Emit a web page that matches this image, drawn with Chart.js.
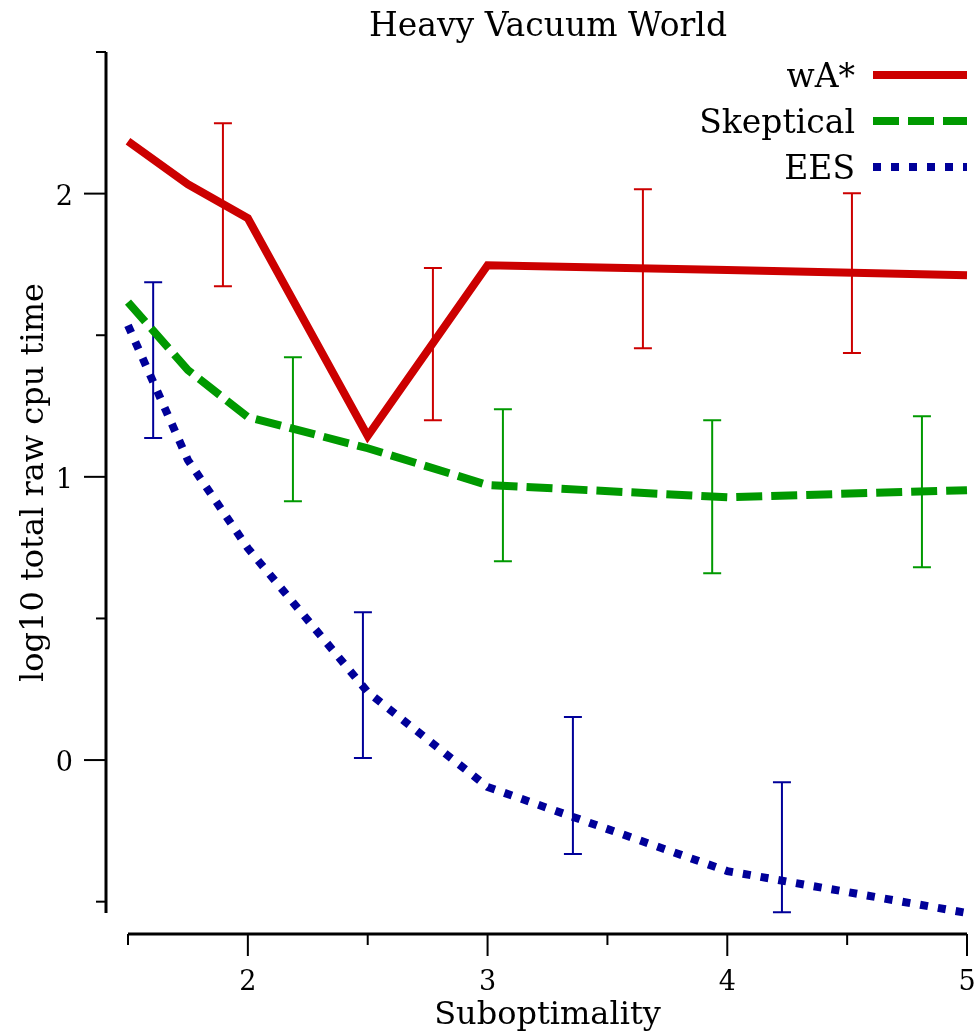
<!DOCTYPE html>
<html>
<head>
<meta charset="utf-8">
<script src="https://cdn.jsdelivr.net/npm/chart.js@4.4.0/dist/chart.umd.min.js"></script>
<style>
  html, body { margin: 0; padding: 0; background: #fff; }
  canvas { display: block; }
</style>
</head>
<body>
<canvas id="grafico" width="978" height="1035"></canvas>
<script>
// dados
const suboptimality = [1.5, 1.75, 2, 2.5, 3, 4, 5];
const wastar    = [2.185, 2.033, 1.913, 1.144, 1.747, 1.730, 1.712];
const skeptical = [1.617, 1.377, 1.211, 1.101, 0.971, 0.928, 0.953];
const ees       = [1.535, 1.059, 0.748, 0.240, -0.095, -0.392, -0.540];

// barras de erro (x, inferior, superior)
const wastarErrX  = [1.896, 2.772, 3.648, 4.520];
const wastarErrLo = [1.673, 1.200, 1.454, 1.437];
const wastarErrHi = [2.248, 1.737, 2.015, 2.001];
const skepErrX  = [2.188, 3.064, 3.937, 4.812];
const skepErrLo = [0.914, 0.702, 0.660, 0.681];
const skepErrHi = [1.422, 1.239, 1.200, 1.214];
const eesErrX  = [1.605, 2.480, 3.356, 4.228];
const eesErrLo = [1.137, 0.007, -0.332, -0.537];
const eesErrHi = [1.687, 0.522, 0.152, -0.078];

const xTicks = [1.5, 2, 2.5, 3, 3.5, 4, 4.5, 5];
const xTickLabels = ["", "2", "", "3", "", "4", "", "5"];
const yTicks = [-0.5, 0, 0.5, 1, 1.5, 2, 2.5];
const yTickLabels = ["", "0", "", "1", "", "2", ""];

const titulo = "Heavy Vacuum World";
const xTitulo = "Suboptimality";
const yTitulo = "log10 total raw cpu time";
const nomes = ["wA*", "Skeptical", "EES"];

const cores = ["#cc0000", "#009900", "#000099"];
const tracos = [[], [26, 9], [8, 10]];
const FONTE = "'DejaVu Serif', serif";
const capW = 0.0375;

function pontos(xs, ys) {
  return xs.map((x, i) => ({ x: x, y: ys[i] }));
}

function barrasErro(xs, lo, hi) {
  const pts = [];
  xs.forEach((x, i) => {
    pts.push({ x: x, y: lo[i] }, { x: x, y: hi[i] }, { x: x, y: null });
    pts.push({ x: x - capW, y: lo[i] }, { x: x + capW, y: lo[i] }, { x: x, y: null });
    pts.push({ x: x - capW, y: hi[i] }, { x: x + capW, y: hi[i] }, { x: x, y: null });
  });
  return pts;
}

function linha(label, data, i) {
  return {
    label: label, data: data, borderColor: cores[i], borderWidth: 8,
    borderDash: tracos[i], borderCapStyle: "butt", pointRadius: 0,
    tension: 0, fill: false, clip: false
  };
}

function erro(data, i) {
  return {
    label: "", data: data, borderColor: cores[i], borderWidth: 2,
    pointRadius: 0, tension: 0, fill: false, spanGaps: false, clip: false
  };
}

const eixosPlugin = {
  id: "eixos",
  afterDraw(chart) {
    const ctx = chart.ctx;
    const xs = chart.scales.x, ys = chart.scales.y;
    const area = chart.chartArea;
    ctx.save();
    ctx.strokeStyle = "#000";
    ctx.fillStyle = "#000";

    // eixo y
    const yAxisX = 106;
    ctx.lineWidth = 3;
    ctx.beginPath();
    ctx.moveTo(yAxisX, ys.getPixelForValue(2.5));
    ctx.lineTo(yAxisX, area.bottom);
    ctx.stroke();
    ctx.lineWidth = 2;
    ctx.font = "27px " + FONTE;
    ctx.textAlign = "right";
    ctx.textBaseline = "alphabetic";
    yTicks.forEach((v, i) => {
      const py = ys.getPixelForValue(v);
      const len = yTickLabels[i] ? 22 : 10;
      ctx.beginPath();
      ctx.moveTo(yAxisX, py);
      ctx.lineTo(yAxisX - len, py);
      ctx.stroke();
      if (yTickLabels[i]) ctx.fillText(yTickLabels[i], 73, py + 11);
    });

    // eixo x
    const xAxisY = 934;
    ctx.lineWidth = 3;
    ctx.beginPath();
    ctx.moveTo(xs.getPixelForValue(1.5), xAxisY);
    ctx.lineTo(xs.getPixelForValue(5), xAxisY);
    ctx.stroke();
    ctx.lineWidth = 2;
    ctx.textAlign = "center";
    xTicks.forEach((v, i) => {
      const px = xs.getPixelForValue(v);
      const len = xTickLabels[i] ? 22 : 11;
      ctx.beginPath();
      ctx.moveTo(px, xAxisY);
      ctx.lineTo(px, xAxisY + len);
      ctx.stroke();
      if (xTickLabels[i]) ctx.fillText(xTickLabels[i], px, 990);
    });

    // titulos
    ctx.font = "33px " + FONTE;
    ctx.textAlign = "center";
    ctx.fillText(titulo, 548, 36);
    ctx.font = "32px " + FONTE;
    ctx.fillText(xTitulo, (area.left + area.right) / 2, 1024);
    ctx.save();
    ctx.translate(43, (area.top + area.bottom) / 2);
    ctx.rotate(-Math.PI / 2);
    ctx.fillText(yTitulo, 0, 0);
    ctx.restore();

    // legenda
    const linhasY = [75, 121, 167];
    ctx.font = "33px " + FONTE;
    ctx.textAlign = "right";
    nomes.forEach((n, i) => {
      ctx.fillStyle = "#000";
      ctx.fillText(n, 855, linhasY[i] + 12);
      ctx.strokeStyle = cores[i];
      ctx.lineWidth = 8;
      ctx.lineCap = "butt";
      ctx.setLineDash(tracos[i]);
      ctx.beginPath();
      ctx.moveTo(873, linhasY[i]);
      ctx.lineTo(967, linhasY[i]);
      ctx.stroke();
      ctx.setLineDash([]);
    });
    ctx.restore();
  }
};

new Chart(document.getElementById("grafico"), {
  type: "line",
  data: {
    datasets: [
      linha(nomes[0], pontos(suboptimality, wastar), 0),
      linha(nomes[1], pontos(suboptimality, skeptical), 1),
      linha(nomes[2], pontos(suboptimality, ees), 2),
      erro(barrasErro(wastarErrX, wastarErrLo, wastarErrHi), 0),
      erro(barrasErro(skepErrX, skepErrLo, skepErrHi), 1),
      erro(barrasErro(eesErrX, eesErrLo, eesErrHi), 2)
    ]
  },
  options: {
    responsive: false,
    animation: false,
    devicePixelRatio: 1,
    layout: { padding: { left: 128, right: 11, top: 52, bottom: 122 } },
    scales: {
      x: { type: "linear", min: 1.5, max: 5, display: false },
      y: { type: "linear", min: -0.54, max: 2.5, display: false }
    },
    plugins: {
      legend: { display: false },
      tooltip: { enabled: false },
      title: { display: false }
    }
  },
  plugins: [eixosPlugin]
});
</script>
</body>
</html>
